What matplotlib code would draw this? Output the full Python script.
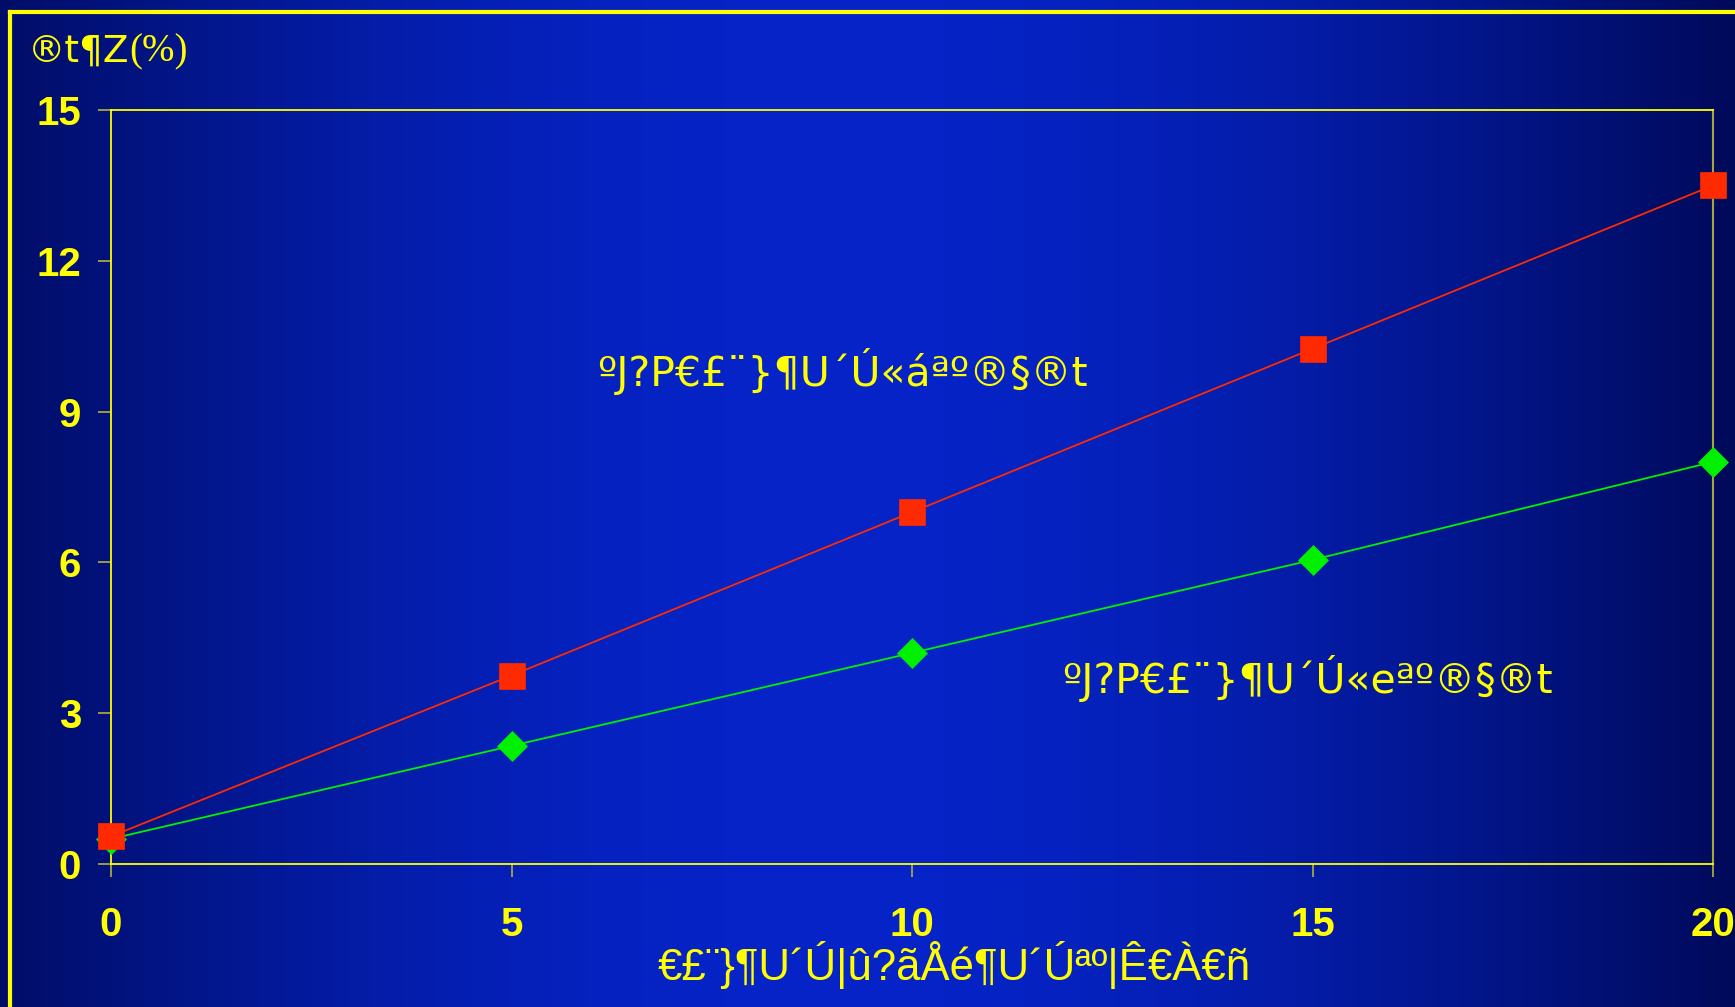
import matplotlib
matplotlib.use("Agg")
import matplotlib.pyplot as plt
import numpy as np
from matplotlib.lines import Line2D

# ---- data ----
x_vals = [0, 5, 10, 15, 20]
red_vals = [0.55, 3.75, 7.0, 10.25, 13.5]
green_vals = [0.5, 2.35, 4.2, 6.05, 8.0]
x_ticks = [0, 5, 10, 15, 20]
y_ticks = [0, 3, 6, 9, 12, 15]
y_label_a = "®t¶Z"
y_label_b = "(%)"
x_label = "€£¨}¶U´Ú|û?ãÅé¶U´Úªº|Ê€À€ñ"
red_text = "ºJ?P€£¨}¶U´Ú«áªº®§®t"
green_text = "ºJ?P€£¨}¶U´Ú«eªº®§®t"

YEL = "#FFFF00"
OLIVE = "#A6A640"
RED = "#FF2A00"
GREEN = "#00F000"

W, H = 1735, 1007
fig = plt.figure(figsize=(W / 100, H / 100), dpi=100)

# background gradient
bg = fig.add_axes([0, 0, 1, 1], zorder=-10)
xs = np.linspace(0, 1, W)
t = np.clip(1 - np.abs(xs - 0.48) / 0.52, 0, 1)
t = np.sin(np.pi / 2 * t)
edge = np.array([0, 10, 90]) / 255
mid = np.array([6, 36, 200]) / 255
row = edge[None, :] + t[:, None] * (mid - edge)[None, :]
img = np.repeat(row[None, :, :], 10, axis=0)
bg.imshow(img, aspect="auto", extent=[0, 1, 0, 1])
bg.set_axis_off()

# yellow frame
fig.add_artist(Line2D([10 / W, 10 / W], [0, 1 - 12 / H], transform=fig.transFigure,
                      color=YEL, lw=3, solid_capstyle="projecting"))
fig.add_artist(Line2D([10 / W, 1], [1 - 12 / H, 1 - 12 / H], transform=fig.transFigure,
                      color=YEL, lw=3, solid_capstyle="projecting"))

# main axes
ax = fig.add_axes([111 / W, 1 - 864 / H, (1713 - 111) / W, (864 - 110) / H])
ax.patch.set_alpha(0)
ax.set_xlim(0, 20)
ax.set_ylim(0, 15)
for s in ["left", "top", "bottom"]:
    ax.spines[s].set_color(YEL)
    ax.spines[s].set_linewidth(1.3)
ax.spines["right"].set_color(OLIVE)
ax.spines["right"].set_linewidth(1.5)

ax.set_xticks(x_ticks)
ax.set_yticks(y_ticks)
ax.tick_params(axis="both", direction="out", length=9.5, width=1.3, color=OLIVE,
               labelcolor=YEL, labelsize=29)
ax.tick_params(axis="y", pad=12)
ax.tick_params(axis="x", pad=21)
for lab in ax.get_xticklabels() + ax.get_yticklabels():
    lab.set_fontfamily("Liberation Sans")
    lab.set_fontweight("bold")

ax.plot(x_vals, green_vals, color=GREEN, lw=1.3, marker="D", markersize=15.5,
        markeredgewidth=0.5, clip_on=False, zorder=3)
ax.plot(x_vals, red_vals, color=RED, lw=1.3, marker="s", markersize=19,
        markeredgewidth=0.5, clip_on=False, zorder=4)

ax.text(6.07, 9.8, red_text, color=YEL, fontsize=29.5, family="DejaVu Sans",
        va="center", ha="left")
ax.text(11.87, 3.7, green_text, color=YEL, fontsize=29.5, family="DejaVu Sans",
        va="center", ha="left")

fig.text(954 / W, 1 - 965 / H, x_label, color=YEL, fontsize=31.5,
         family="Liberation Sans", ha="center", va="center")

ta = fig.text(28 / W, 1 - 52 / H, y_label_a, color=YEL, fontsize=27,
              family="DejaVu Sans", ha="left", va="center")
fig.canvas.draw()
bb = ta.get_window_extent()
fig.text(bb.x1 / W, 1 - 52 / H, y_label_b, color=YEL, fontsize=28,
         family="Liberation Serif", ha="left", va="center")

fig.savefig("out.png", dpi=100)
